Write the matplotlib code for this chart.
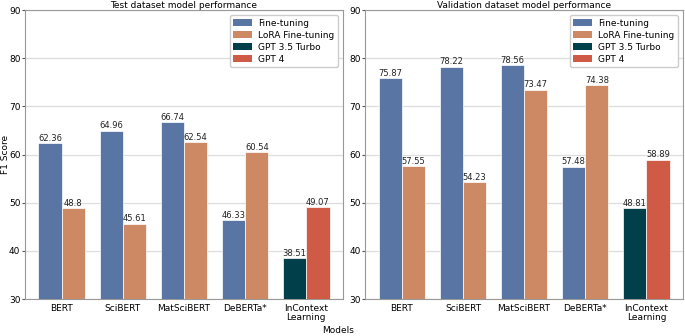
import matplotlib
matplotlib.use("Agg")
import matplotlib.pyplot as plt
from matplotlib.patches import Patch
import numpy as np

categories = ["BERT", "SciBERT", "MatSciBERT", "DeBERTa*", "InContext\nLearning"]
series_names = ["Fine-tuning", "LoRA Fine-tuning", "GPT 3.5 Turbo", "GPT 4"]
colors = ["#5975A4", "#CC8963", "#013F4A", "#CF5A45"]

# first bar / second bar per category (InContext uses GPT 3.5 / GPT 4)
test_first = [62.36, 64.96, 66.74, 46.33, 38.51]
test_second = [48.8, 45.61, 62.54, 60.54, 49.07]
val_first = [75.87, 78.22, 78.56, 57.48, 48.81]
val_second = [57.55, 54.23, 73.47, 74.38, 58.89]
first_series = [0, 0, 0, 0, 2]
second_series = [1, 1, 1, 1, 3]

titles = ["Test dataset model performance", "Validation dataset model performance"]
yticks = [30, 40, 50, 60, 70, 80, 90]

plt.rcParams['font.family'] = ['DejaVu Sans']
fig = plt.figure(figsize=(6.85, 3.36), dpi=100)
axes = [fig.add_axes([0.0365, 0.110, 0.4642, 0.860]),
        fig.add_axes([0.5330, 0.110, 0.4642, 0.860])]

data = [(test_first, test_second), (val_first, val_second)]
fs = 6.5
w = 0.38
for ax, (first, second), title in zip(axes, data, titles):
    x = np.arange(len(categories))
    c1 = [colors[i] for i in first_series]
    c2 = [colors[i] for i in second_series]
    b1 = ax.bar(x - w / 2, first, width=w, color=c1, edgecolor="white", linewidth=0.5, zorder=3)
    b2 = ax.bar(x + w / 2, second, width=w, color=c2, edgecolor="white", linewidth=0.5, zorder=3)
    ax.bar_label(b1, labels=[f"{v:g}" for v in first], fontsize=6, padding=0.3, color="#222222")
    ax.bar_label(b2, labels=[f"{v:g}" for v in second], fontsize=6, padding=0.3, color="#222222")
    ax.set_ylim(30, 90)
    ax.set_xlim(-0.6, 4.6)
    ax.set_yticks(yticks)
    ax.set_xticks(x)
    ax.set_xticklabels(categories, fontsize=fs, linespacing=1.0)
    ax.tick_params(axis="y", labelsize=fs, length=2.5, width=0.8, color="#555555", pad=0.8)
    ax.tick_params(axis="x", length=0, pad=3.5)
    ax.yaxis.grid(True, color="#dddddd", linewidth=0.9, zorder=0)
    ax.set_axisbelow(True)
    for s in ax.spines.values():
        s.set_color("#999999")
        s.set_linewidth(0.8)
    ax.set_title(title, fontsize=fs, pad=1.0)
    handles = [Patch(facecolor=c, edgecolor="none") for c in colors]
    ax.legend(handles, series_names, loc="upper right", fontsize=fs,
              frameon=True, edgecolor="#cccccc", fancybox=True, framealpha=1,
              handlelength=2.1, handleheight=0.75, handletextpad=0.66,
              borderpad=0.35, labelspacing=0.33, borderaxespad=0.6)

axes[0].set_ylabel("F1 Score", fontsize=fs)
axes[0].yaxis.set_label_coords(-0.047, 0.5)
fig.text(0.494, 0.004, "Models", fontsize=fs, ha="center", va="bottom")

fig.savefig("out.png", dpi=100)
